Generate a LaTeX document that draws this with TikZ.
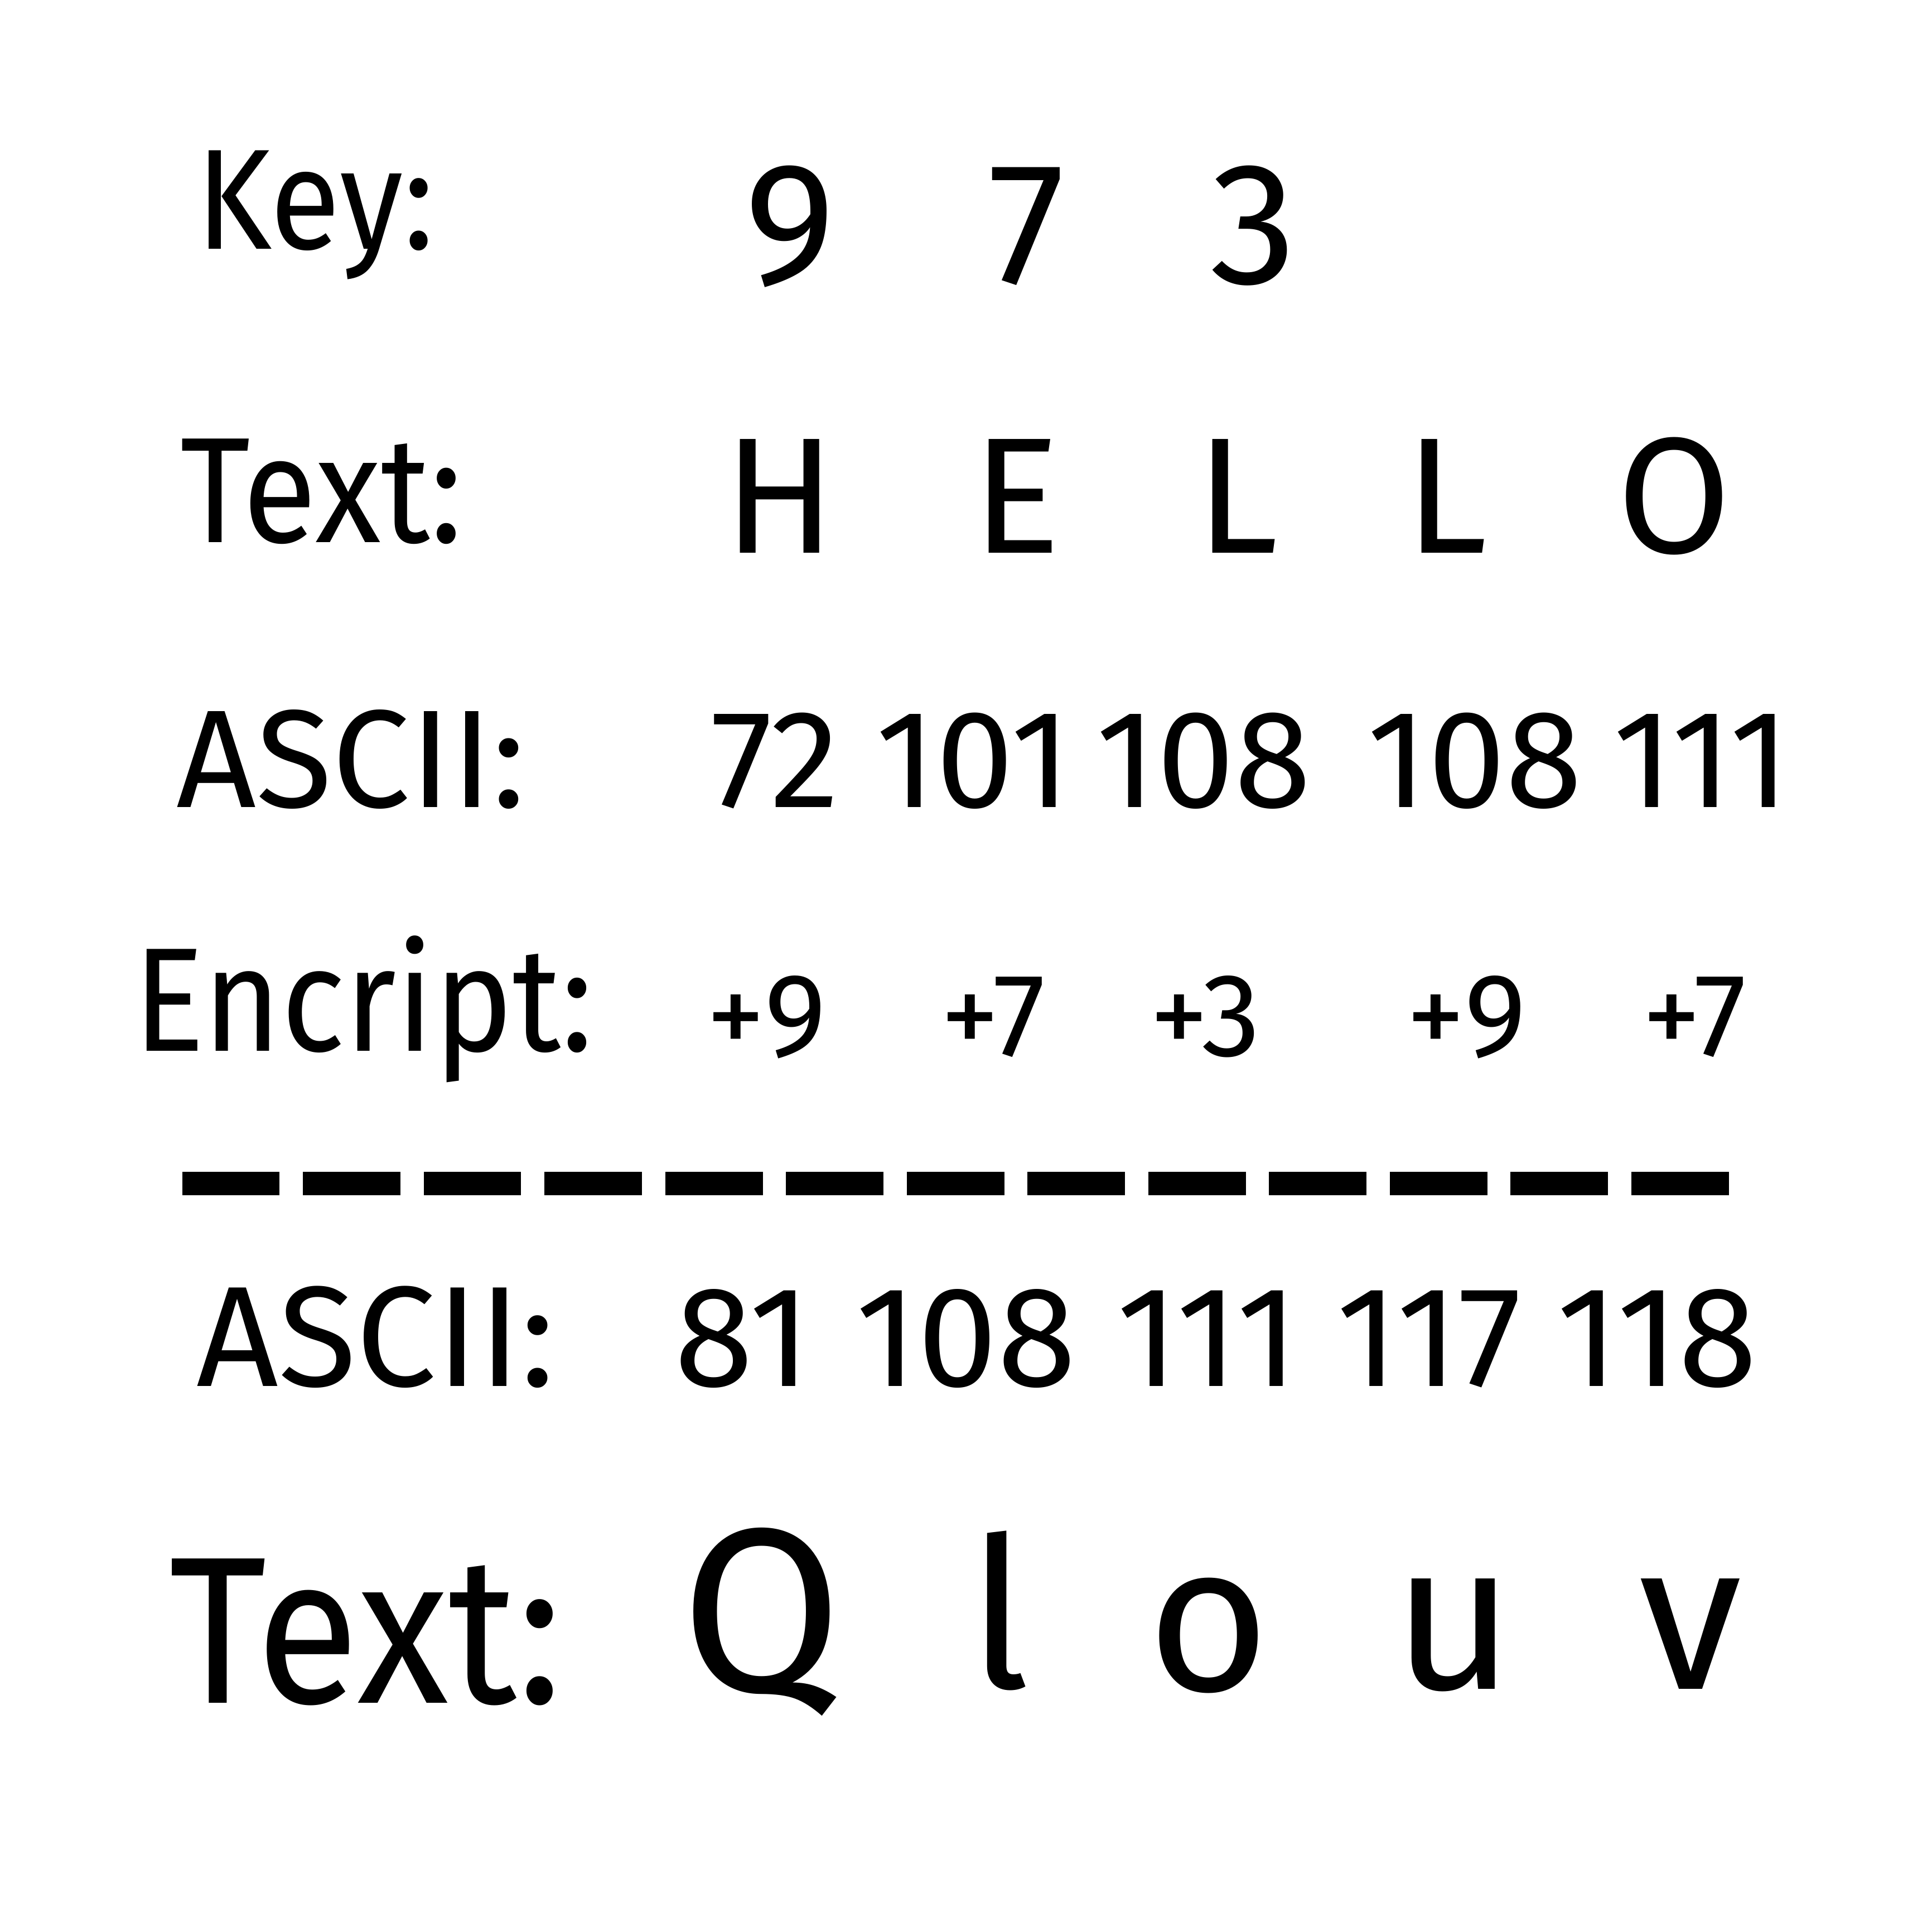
\documentclass[tikz,border=0pt]{standalone}
\usepackage{fontspec}
\setmainfont{Fira Sans}
\newfontfamily\narrowfont[FakeStretch=0.9]{Fira Sans}
\newcommand{\fsz}[1]{\fontsize{#1bp}{#1bp}\selectfont}
\begin{document}
\begin{tikzpicture}[x=1bp,y=-1bp,
  t/.style={inner sep=0pt,outer sep=0pt,anchor=base},
  lbl/.style={t,font=\narrowfont\fsz{#1}},
  dashseg/.style={fill=black,draw=none}]
\useasboundingbox[fill=white] (0,0) rectangle (1568,1568);
% row 1
\node[lbl=116] (key) at (256,202) {Key:};
\node[t,font=\fsz{141}] (k1) at (641,230) {9};
\node[t,font=\fsz{141}] (k2) at (833,230) {7};
\node[t,font=\fsz{141}] (k3) at (1017,230) {3};
% row 2
\node[lbl=122] (text1) at (261,440) {Text:};
\node[t,font=\fsz{134}] (p1) at (633,449) {H};
\node[t,font=\fsz{134}] (p2) at (825,449) {E};
\node[t,font=\fsz{134}] (p3) at (1004,449) {L};
\node[t,font=\fsz{134}] (p4) at (1174,449) {L};
\node[t,font=\fsz{134}] (p5) at (1359,449) {O};
% row 3
\node[t,font=\fsz{113}] (ascii1) at (285,655) {ASCII:};
\node[t,font=\fsz{113}] (a1) at (629,655) {72};
\node[t,font=\fsz{113}] (a2) at (790,655) {101};
\node[t,font=\fsz{113}] (a3) at (977,655) {108};
\node[t,font=\fsz{113}] (a4) at (1197,655) {108};
\node[t,font=\fsz{113}] (a5) at (1381,655) {111};
% row 4
\node[lbl=120] (enc) at (295,853) {Encript:};
\node[t,font=\fsz{96}] (e1) at (622,857) {+9};
\node[t,font=\fsz{96}] (e2) at (806,857) {+7};
\node[t,font=\fsz{96}] (e3) at (978,857) {+3};
\node[t,font=\fsz{96}] (e4) at (1190,857) {+9};
\node[t,font=\fsz{96}] (e5) at (1375,857) {+7};
% dashed rule
\foreach \i in {0,...,12} {
  \fill[dashseg] ({148+98*\i},951) rectangle ({227+98*\i},970);
}
% row 6
\node[t,font=\fsz{116}] (ascii2) at (305,1125) {ASCII:};
\node[t,font=\fsz{116}] (b1) at (603,1125) {81};
\node[t,font=\fsz{116}] (b2) at (784,1125) {108};
\node[t,font=\fsz{116}] (b3) at (980,1125) {111};
\node[t,font=\fsz{116}] (b4) at (1160,1125) {117};
\node[t,font=\fsz{116}] (b5) at (1345,1125) {118};
% row 7
\node[lbl=170] (text2) at (297,1382) {Text:};
\node[t,font=\fsz{190}] (c1) at (618,1373) {Q};
\node[t,font=\fsz{170}] (c2) at (811,1370) {l};
\node[t,font=\fsz{170}] (c3) at (981,1372) {o};
\node[t,font=\fsz{170}] (c4) at (1180,1371) {u};
\node[t,font=\fsz{170}] (c5) at (1372,1371) {v};
\end{tikzpicture}
\end{document}
